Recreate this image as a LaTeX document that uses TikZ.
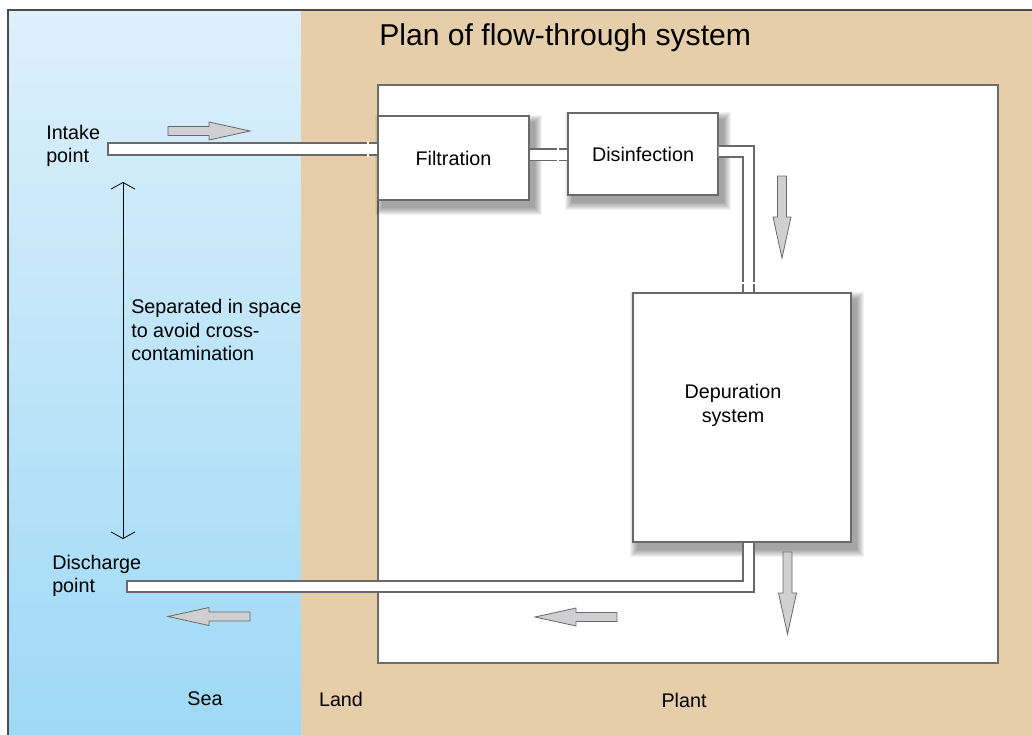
\documentclass[tikz,border=0pt]{standalone}
\usepackage{fontspec}
\setmainfont{Liberation Sans}
\usetikzlibrary{arrows.meta}

\definecolor{seatop}{RGB}{221,240,251}
\definecolor{seabot}{RGB}{158,217,246}
\definecolor{landcol}{RGB}{230,206,171}
\definecolor{edgecol}{RGB}{105,105,105}
\definecolor{arrowfill}{RGB}{208,208,210}

\pgfdeclarelayer{ground}
\pgfdeclarelayer{shadow}
\pgfsetlayers{ground,shadow,main}

% soft shadow under a node, stacked from faint layers
\newcommand\softshadow[1]{%
    \begin{pgfonlayer}{shadow}
        \foreach \k in {0,...,7}
            \fill[black,opacity=0.05]
                ([shift={(\k-2,\k)}]#1.north west)
                rectangle ([shift={(12-\k,14-\k)}]#1.south east);
    \end{pgfonlayer}}

\begin{document}
\begin{tikzpicture}[
    x=0.75pt,y=-0.75pt,
    line join=miter,
    txt/.style={font=\fontsize{14.8}{17.5}\selectfont,align=left,inner sep=0pt},
    unitbox/.style={draw=edgecol,fill=white,line width=0.8pt},
    pipe/.style={draw=edgecol,fill=white,line width=0.8pt},
    joint/.style={draw=white,line width=1pt},
    flowarrow/.pic={
        \draw[draw=edgecol,fill=arrowfill,line width=0.6pt]
            (0,-4.5) -- (41,-4.5) -- (41,-9) -- (82,0)
            -- (41,9) -- (41,4.5) -- (0,4.5) -- cycle;
    }
]
    \useasboundingbox (0,0) rectangle (1032,735);

    % sea, land and the plant ground
    \begin{pgfonlayer}{ground}
        \shade[top color=seatop,bottom color=seabot] (8,10) rectangle (301,735);
        \fill[landcol] (301,10) rectangle (1032,735);
        \draw[line width=1.1pt,draw=black!70] (1032,10) -- (8,10) -- (8,735);
        \draw[draw=gray!85!black,fill=white,line width=1.2pt] (378,85) rectangle (998,663);
    \end{pgfonlayer}

    \node[font=\fontsize{22.6}{26}\selectfont,anchor=west,inner sep=0pt] (title)
        at (379,38) {Plan of flow-through system};

    % treatment units
    \node[unitbox,minimum width=113.25pt,minimum height=63pt,txt] (filt)
        at (453.5,158) {Filtration};
    \node[unitbox,minimum width=112.5pt,minimum height=61.5pt,txt] (disinf)
        at (643,154) {Disinfection};
    \node[unitbox,minimum width=163.5pt,minimum height=186.75pt] (dep)
        at (742,417.5) {};
    \node[txt,align=center] (deptext) at ([shift={(-9,-12)}]dep.center)
        {Depuration\\system};
    \softshadow{filt}
    \softshadow{disinf}
    \softshadow{dep}

    % pipework
    \draw[pipe] (108,143) rectangle (filt.west |- 0,155);
    \draw[pipe] (filt.east |- 0,149) rectangle (disinf.west |- 0,160.5);
    \draw[pipe] (disinf.east |- 0,146) -- (754,146) -- (754,0 |- dep.north)
        -- (743,0 |- dep.north) -- (743,157) -- (disinf.east |- 0,157);
    \draw[pipe] (743,0 |- dep.south) -- (754,0 |- dep.south) -- (754,592)
        -- (127,592) -- (127,581) -- (743,581) -- cycle;
    \draw[joint] (368,141) -- (368,157);
    \draw[joint] (558,147) -- (558,162.5);
    \draw[joint] (741,283) -- (756,283);

    % flow direction
    \path
        pic at (168,131) {flowarrow}
        pic[rotate=-90] at (782,176) {flowarrow}
        pic[rotate=-90] at (787.5,552) {flowarrow}
        pic[rotate=180] at (617,617) {flowarrow}
        pic[rotate=180] at (250,616.5) {flowarrow}
    ;

    % labels
    \node[txt,anchor=west] (intake) at (46,146) {Intake\\point};
    \node[txt,anchor=west] (discharge) at (52,576) {Discharge\\point};
    \node[txt,anchor=west] (sepnote) at (131,330)
        {Separated in space\\to avoid cross-\\contamination};
    \node[txt] (sea) at (205,699) {Sea};
    \node[txt] (land) at (341,699) {Land};
    \node[txt] (plant) at (684,700) {Plant};

    \coordinate (gaptop) at (123,182);
    \coordinate (gapbot) at (123,539);
    \draw[{Straight Barb[length=5pt,width=18pt]}-{Straight Barb[length=5pt,width=18pt]},
        line width=0.6pt] (gaptop) -- (gapbot);
\end{tikzpicture}
\end{document}
